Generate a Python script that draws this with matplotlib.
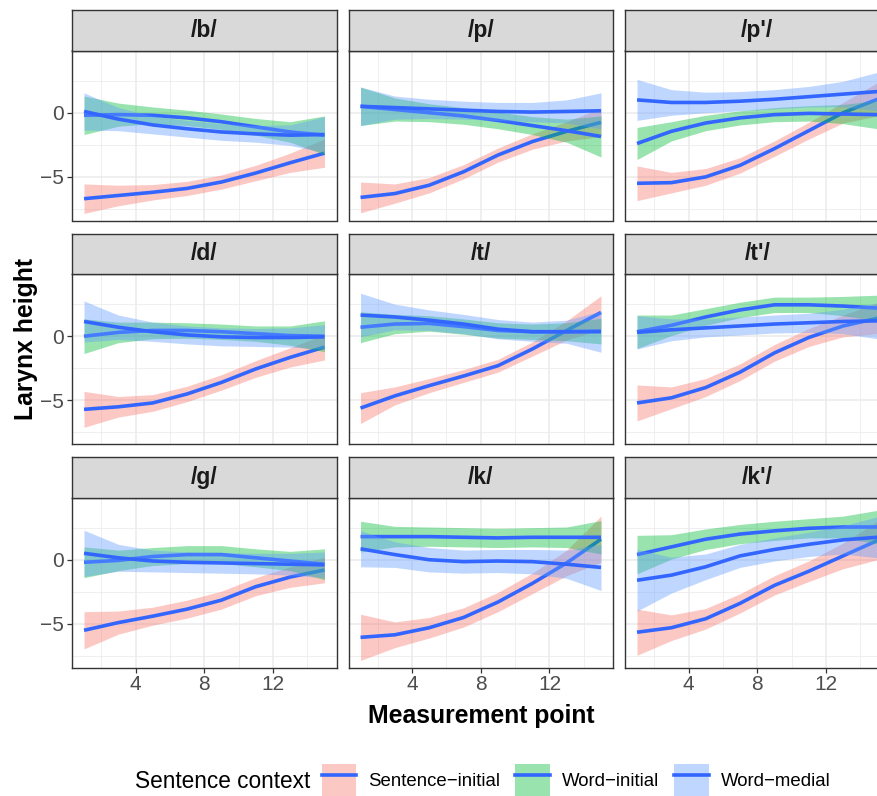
import numpy as np
import matplotlib
matplotlib.use("Agg")
import matplotlib.pyplot as plt
from matplotlib.patches import Patch
from matplotlib.lines import Line2D
from matplotlib.legend_handler import HandlerTuple

plt.rcParams['font.family'] = ['Liberation Sans', 'DejaVu Sans']

points = [1, 3, 5, 7, 9, 11, 13, 15]
phonemes = ["/b/", "/p/", "/p'/", "/d/", "/t/", "/t'/", "/g/", "/k/", "/k'/"]
contexts = ["Sentence\u2212initial", "Word\u2212initial", "Word\u2212medial"]

sent_initial = [
    [-6.7, -6.45, -6.2, -5.9, -5.4, -4.7, -3.9, -3.15],
    [-6.6, -6.3, -5.65, -4.6, -3.3, -2.25, -1.45, -0.75],
    [-5.5, -5.45, -5.0, -4.1, -2.8, -1.4, 0.0, 1.05],
    [-5.7, -5.5, -5.2, -4.5, -3.6, -2.55, -1.65, -0.85],
    [-5.6, -4.65, -3.85, -3.1, -2.3, -1.0, 0.45, 1.85],
    [-5.2, -4.8, -4.0, -2.8, -1.3, -0.1, 0.8, 1.4],
    [-5.5, -4.9, -4.4, -3.85, -3.15, -2.1, -1.35, -0.8],
    [-6.05, -5.85, -5.3, -4.5, -3.3, -1.85, -0.25, 1.6],
    [-5.65, -5.3, -4.6, -3.4, -2.0, -0.9, 0.3, 1.5],
]
word_initial = [
    [-0.2, -0.15, -0.2, -0.4, -0.7, -1.1, -1.5, -1.75],
    [0.5, 0.25, 0.0, -0.25, -0.6, -1.0, -1.4, -1.85],
    [-2.4, -1.45, -0.8, -0.4, -0.15, -0.05, -0.1, -0.15],
    [0.0, 0.3, 0.45, 0.45, 0.35, 0.2, 0.05, 0.0],
    [0.7, 0.95, 1.0, 0.75, 0.45, 0.35, 0.35, 0.4],
    [0.35, 0.85, 1.5, 2.05, 2.45, 2.45, 2.35, 2.2],
    [-0.2, -0.05, 0.25, 0.4, 0.4, 0.15, -0.1, -0.35],
    [1.8, 1.8, 1.8, 1.75, 1.7, 1.75, 1.75, 1.75],
    [0.4, 1.0, 1.6, 2.0, 2.25, 2.45, 2.55, 2.55],
]
word_medial = [
    [0.1, -0.5, -0.95, -1.25, -1.5, -1.65, -1.75, -1.7],
    [0.5, 0.4, 0.3, 0.2, 0.1, 0.05, 0.1, 0.15],
    [1.0, 0.8, 0.8, 0.9, 1.05, 1.25, 1.45, 1.65],
    [1.15, 0.7, 0.35, 0.1, -0.05, -0.1, -0.1, -0.05],
    [1.65, 1.5, 1.25, 0.95, 0.55, 0.35, 0.35, 0.35],
    [0.3, 0.5, 0.65, 0.8, 0.95, 1.05, 1.15, 1.2],
    [0.5, 0.15, -0.1, -0.2, -0.25, -0.3, -0.35, -0.4],
    [0.85, 0.4, 0.0, -0.15, -0.1, -0.15, -0.35, -0.6],
    [-1.6, -1.2, -0.55, 0.3, 0.8, 1.2, 1.55, 1.75],
]

# half widths of the confidence bands
sent_initial_ci = [
    [1.15, 0.8, 0.6, 0.55, 0.55, 0.6, 0.75, 1.1],
    [1.2, 0.75, 0.6, 0.55, 0.55, 0.6, 0.75, 1.1],
    [1.35, 0.8, 0.65, 0.6, 0.6, 0.65, 0.8, 1.3],
    [1.4, 0.8, 0.65, 0.6, 0.6, 0.65, 0.75, 1.0],
    [1.2, 0.7, 0.55, 0.5, 0.5, 0.55, 0.75, 1.3],
    [1.4, 0.85, 0.7, 0.65, 0.65, 0.7, 0.85, 1.2],
    [1.45, 0.9, 0.7, 0.7, 0.7, 0.7, 0.8, 1.0],
    [1.8, 1.0, 0.8, 0.75, 0.75, 0.8, 1.0, 1.8],
    [1.8, 1.0, 0.8, 0.75, 0.75, 0.8, 1.0, 1.5],
]
word_initial_ci = [
    [1.5, 0.9, 0.65, 0.6, 0.6, 0.65, 0.8, 1.5],
    [1.5, 0.9, 0.7, 0.65, 0.65, 0.7, 0.9, 1.6],
    [1.25, 0.75, 0.6, 0.55, 0.55, 0.6, 0.75, 1.1],
    [1.35, 0.8, 0.65, 0.6, 0.6, 0.6, 0.75, 1.2],
    [1.2, 0.75, 0.6, 0.6, 0.6, 0.6, 0.7, 1.0],
    [1.3, 0.8, 0.65, 0.6, 0.6, 0.6, 0.75, 1.0],
    [1.2, 0.8, 0.7, 0.7, 0.7, 0.7, 0.75, 1.2],
    [1.2, 0.8, 0.75, 0.75, 0.75, 0.75, 0.8, 1.3],
    [1.5, 0.95, 0.8, 0.75, 0.75, 0.75, 0.85, 1.3],
]
word_medial_ci = [
    [1.45, 0.9, 0.7, 0.65, 0.65, 0.65, 0.8, 1.4],
    [1.5, 0.9, 0.75, 0.7, 0.7, 0.75, 0.9, 1.4],
    [1.6, 1.0, 0.8, 0.75, 0.75, 0.8, 1.0, 1.5],
    [1.6, 0.95, 0.75, 0.7, 0.7, 0.7, 0.75, 0.95],
    [1.7, 1.0, 0.8, 0.75, 0.75, 0.75, 0.9, 1.6],
    [1.3, 0.85, 0.7, 0.7, 0.7, 0.75, 0.95, 1.4],
    [1.8, 1.05, 0.85, 0.8, 0.8, 0.8, 0.85, 1.0],
    [1.4, 1.0, 0.95, 0.9, 0.9, 0.95, 1.1, 1.8],
    [2.4, 1.4, 1.0, 0.9, 0.9, 0.95, 1.1, 1.6],
]

fills = ["#F8766D", "#00BA38", "#619CFF"]
line_col = "#3366FF"

#-- layout in pixels
W, H = 877, 796
col_left = [72, 348.5, 625]
panel_w = 264.5
strip_top = [10, 233.5, 457]
strip_h = 40.5
panel_h = 170

def box(x, y, w, h):
    return [x / W, 1 - (y + h) / H, w / W, h / H]

fig = plt.figure(figsize=(W / 100, H / 100), dpi=100)

means = [sent_initial, word_initial, word_medial]
cis = [sent_initial_ci, word_initial_ci, word_medial_ci]

for i, name in enumerate(phonemes):
    r, c = divmod(i, 3)
    ax = fig.add_axes(box(col_left[c], strip_top[r] + strip_h, panel_w, panel_h))
    ax.set_xlim(0.3, 15.7)
    ax.set_ylim(-8.4, 4.85)
    ax.set_xticks([4, 8, 12])
    ax.set_xticks([2, 6, 10, 14], minor=True)
    ax.set_yticks([-5, 0])
    ax.set_yticks([-7.5, -2.5, 2.5], minor=True)
    ax.grid(which='major', color='#EBEBEB', lw=1.1)
    ax.grid(which='minor', color='#EBEBEB', lw=0.55)
    ax.set_axisbelow(True)
    for sp in ax.spines.values():
        sp.set_color('#333333')
        sp.set_linewidth(1.0)
    ax.tick_params(which='major', length=3.5, width=0.9, color='#333333',
                   labelsize=15, labelcolor='#4D4D4D', pad=2)
    ax.tick_params(which='minor', length=0)
    ax.tick_params(left=(c == 0), labelleft=(c == 0),
                   bottom=(r == 2), labelbottom=(r == 2))

    x = np.array(points)
    for k in range(3):
        m = np.array(means[k][i])
        hw = np.array(cis[k][i])
        ax.fill_between(x, m - hw, m + hw, color=fills[k], alpha=0.4,
                        lw=0, zorder=2 + 2 * k)
        ax.plot(x, m, color=line_col, lw=2.6, zorder=3 + 2 * k,
                solid_capstyle='butt')

    sx = fig.add_axes(box(col_left[c], strip_top[r], panel_w, strip_h))
    sx.set_facecolor('#D9D9D9')
    sx.set_xticks([])
    sx.set_yticks([])
    for sp in sx.spines.values():
        sp.set_color('#333333')
        sp.set_linewidth(1.0)
    sx.text(0.5, 0.5, name, ha='center', va='center', fontsize=16.5,
            fontweight='bold', color='#1A1A1A', transform=sx.transAxes)

fig.text(481 / W, 1 - 716 / H, "Measurement point", ha='center', va='center',
         fontsize=17.8, fontweight='bold')
fig.text(26 / W, 1 - 339 / H, "Larynx height", ha='center', va='center',
         rotation=90, fontsize=17.8, fontweight='bold')

# legend
fig.text(135 / W, 1 - 781 / H, "Sentence context", ha='left', va='center',
         fontsize=16.3)
handles = [(Patch(facecolor=f, alpha=0.4, edgecolor='none'),
            Line2D([], [], color=line_col, lw=2.6)) for f in fills]
fig.legend(handles, contexts, loc='center left',
           bbox_to_anchor=(322 / W, 1 - 780 / H), ncol=3, frameon=False,
           fontsize=13.4, handlelength=1.85, handleheight=2.3,
           handletextpad=0.65, columnspacing=0.8, borderpad=0,
           borderaxespad=0,
           handler_map={tuple: HandlerTuple(ndivide=1, pad=0)})

fig.savefig("out.png", dpi=100)
